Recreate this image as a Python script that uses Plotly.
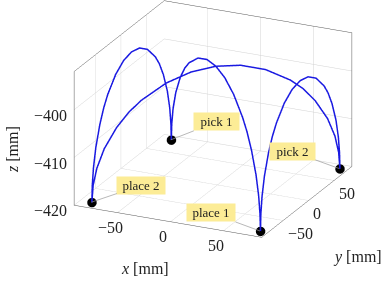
import numpy as np
import plotly.graph_objects as go

# waypoints (mm): place 2 -> pick 1 -> place 1 -> pick 2 -> place 2
wp_names = ["place 2", "pick 1", "place 1", "pick 2"]
wp_x = [-80, -80, 79, 79]
wp_y = [-80, 76, -80, 76]
wp_z = [-420, -420, -420, -420]
route = [0, 1, 2, 3, 0]

# vertical rise of each arc (mm) along the fraction of the move
arc_frac = [0, 0.005, 0.02, 0.05, 0.1, 0.15, 0.2, 0.3, 0.4, 0.5,
            0.6, 0.7, 0.8, 0.85, 0.9, 0.95, 0.98, 0.995, 1]
arc_rise = [0, 3.5, 7.0, 10.9, 15.0, 17.9, 20.0, 22.9, 24.5, 25.0,
            24.5, 22.9, 20.0, 17.9, 15.0, 10.9, 7.0, 3.5, 0]

x_range = [-91, 86]
y_range = [-92, 85]
z_range = [-420, -392]
x_ticks = [-50, 0, 50]
y_ticks = [-50, 0, 50]
z_ticks = [-420, -410, -400]

# build the path table
f = np.array(arc_frac)
r = np.array(arc_rise)
px, py, pz = [], [], []
for a, b in zip(route[:-1], route[1:]):
    px += list(wp_x[a] + (wp_x[b] - wp_x[a]) * f) + [None]
    py += list(wp_y[a] + (wp_y[b] - wp_y[a]) * f) + [None]
    pz += list(wp_z[a] + r) + [None]

fig = go.Figure()
fig.add_trace(go.Scatter3d(x=px, y=py, z=pz, mode="lines",
                           line=dict(color="rgb(25,25,225)", width=3),
                           hoverinfo="skip", connectgaps=False))
fig.add_trace(go.Scatter3d(x=wp_x, y=wp_y, z=wp_z, mode="markers",
                           marker=dict(color="black", size=5.5),
                           hoverinfo="skip"))

SERIF = "Liberation Serif"
label_off = {"place 2": (50, -17), "pick 1": (46, -18),
             "place 1": (-49, -18), "pick 2": (-47, -17)}
label_w = {"place 2": 48, "pick 1": 45, "place 1": 48, "pick 2": 45}
ann = []
for n, x, y, z in zip(wp_names, wp_x, wp_y, wp_z):
    ax, ay = label_off[n]
    ann.append(dict(x=x, y=y, z=z, text=n, showarrow=True, ax=ax, ay=ay,
                    arrowhead=0, arrowwidth=0.7, arrowcolor="#999",
                    bgcolor="rgb(252,236,150)", borderpad=0,
                    width=label_w[n], height=17,
                    font=dict(family=SERIF, size=13, color="#222")))

# tick labels, anchored at the axis ticks in data coordinates
def fmt(v):
    return ("\u2212" + str(-v)) if v < 0 else str(v)

tick_font = dict(family=SERIF, size=16, color="#222")
for v in x_ticks:
    ann.append(dict(x=v, y=y_range[0], z=z_range[0], text=fmt(v), showarrow=False,
                    xanchor="center", yanchor="middle", xshift=-7, yshift=-15,
                    font=tick_font))
for v in y_ticks:
    ann.append(dict(x=x_range[1], y=v, z=z_range[0], text=fmt(v), showarrow=False,
                    xanchor="left", yanchor="middle", xshift=3, yshift=-13,
                    font=tick_font))
for v in z_ticks:
    ann.append(dict(x=x_range[0], y=y_range[0], z=v, text=fmt(v), showarrow=False,
                    xanchor="right", yanchor="middle", xshift=-5, yshift=-6,
                    font=tick_font))

axis_common = dict(showbackground=False, showticklabels=False,
                   gridcolor="#d2d2d2", gridwidth=1, showline=True,
                   linecolor="#555", linewidth=1, mirror=True,
                   zeroline=False, showspikes=False, ticks="",
                   title=dict(text=""))

az, el = np.radians(25.0), np.radians(21.5)
eye = (np.sin(az) * np.cos(el), -np.cos(az) * np.cos(el), np.sin(el))
s = 1.74
fig.update_layout(
    width=385, height=283, margin=dict(l=0, r=0, t=0, b=0),
    paper_bgcolor="white", showlegend=False,
    font=dict(family=SERIF, color="#222"),
    scene=dict(
        domain=dict(x=[0.108, 0.996], y=[0.16, 1.0]),
        xaxis=dict(axis_common, range=x_range, tickvals=x_ticks),
        yaxis=dict(axis_common, range=y_range, tickvals=y_ticks),
        zaxis=dict(axis_common, range=z_range, tickvals=z_ticks),
        aspectmode="manual", aspectratio=dict(x=1 * s, y=1.03 * s, z=0.694 * s),
        camera=dict(projection=dict(type="orthographic"),
                    eye=dict(x=eye[0] * 2, y=eye[1] * 2, z=eye[2] * 2),
                    up=dict(x=0, y=0, z=1), center=dict(x=0, y=0, z=0)),
        annotations=ann,
    ),
    annotations=[
        dict(text="<i>x</i> [mm]", x=145 / 385, y=1 - 268 / 283, xref="paper", yref="paper",
             xanchor="center", yanchor="middle", showarrow=False, font=dict(size=16)),
        dict(text="<i>y</i> [mm]", x=357 / 385, y=1 - 257 / 283, xref="paper", yref="paper",
             xanchor="center", yanchor="middle", showarrow=False, font=dict(size=16)),
        dict(text="<i>z</i> [mm]", x=12 / 385, y=1 - 150 / 283, xref="paper", yref="paper",
             xanchor="center", yanchor="middle", showarrow=False, textangle=-90,
             font=dict(size=16)),
    ],
)
fig.write_html("out.html")
